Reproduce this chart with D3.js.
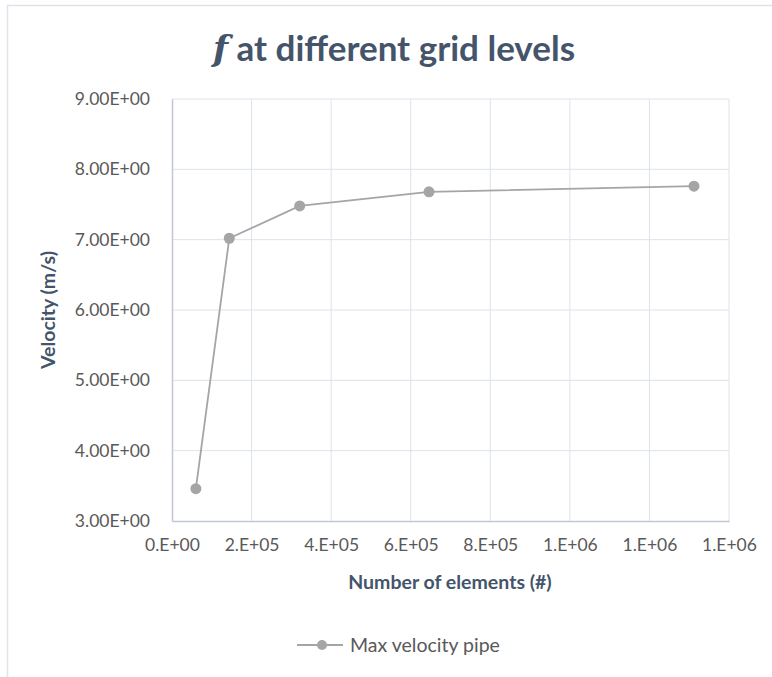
<!DOCTYPE html>
<html>
<head>
<meta charset="utf-8">
<script src="https://cdn.jsdelivr.net/npm/d3@7"></script>
<style>
  html, body { margin: 0; padding: 0; background: #fff; }
  svg { display: block; }
</style>
</head>
<body>
<svg id="chart" width="772" height="677"></svg>
<script>
// Grid-convergence study: maximum pipe velocity vs. mesh size
const elements = [60000, 144000, 321000, 646000, 1312000];
const velocity = [3.46, 7.02, 7.48, 7.68, 7.76];
const xTicks = [0, 200000, 400000, 600000, 800000, 1000000, 1200000, 1400000];
const yTicks = [3, 4, 5, 6, 7, 8, 9];
const seriesName = "Max velocity pipe";

const font = "Lato, 'Open Sans', sans-serif";
const svg = d3.select("#chart");

// Chart frame
svg.append("rect")
  .attr("x", 7.5).attr("y", 5.5)
  .attr("width", 800).attr("height", 700)
  .attr("fill", "#fff")
  .attr("stroke", "#dfe4ea").attr("stroke-width", 1.5);

const plot = { left: 172, right: 729, top: 99, bottom: 521 };

const x = d3.scaleLinear().domain([0, 1400000]).range([plot.left, plot.right]);
const y = d3.scaleLinear().domain([3, 9]).range([plot.bottom, plot.top]);

// Gridlines
const grid = svg.append("g");
grid.selectAll(".gx").data(xTicks.slice(1)).join("line")
  .attr("x1", d => x(d)).attr("x2", d => x(d))
  .attr("y1", plot.top).attr("y2", plot.bottom)
  .attr("stroke", "#dde2ea").attr("stroke-width", 1);
grid.selectAll(".gy").data(yTicks.slice(1)).join("line")
  .attr("x1", plot.left).attr("x2", plot.right)
  .attr("y1", d => y(d)).attr("y2", d => y(d))
  .attr("stroke", "#dde2ea").attr("stroke-width", 1);

// Excel-style scientific labels: 0.E+00, 2.E+05, 1.E+06 ...
const sci = d => {
  if (d === 0) return "0.E+00";
  const exp = Math.floor(Math.log10(d));
  const mant = Math.round(d / Math.pow(10, exp));
  return `${mant}.E+${String(exp).padStart(2, "0")}`;
};

// Axes
const xAxis = d3.axisBottom(x).tickValues(xTicks).tickSize(0).tickPadding(18).tickFormat(sci);
const yAxis = d3.axisLeft(y).tickValues(yTicks).tickSize(0).tickPadding(22)
  .tickFormat(d => d.toFixed(2) + "E+00");

const gx = svg.append("g").attr("transform", `translate(0,${plot.bottom})`).call(xAxis);
const gy = svg.append("g").attr("transform", `translate(${plot.left},0)`).call(yAxis);
[gx, gy].forEach(g => {
  g.select(".domain").attr("stroke", "#c0c8d4").attr("stroke-width", 1.5);
  g.selectAll("text").attr("fill", "#595959").attr("font-family", font).attr("font-size", 17.5);
});

// Axis titles
svg.append("text")
  .attr("x", 450).attr("y", 589)
  .attr("text-anchor", "middle")
  .attr("font-family", font).attr("font-size", 19.5).attr("font-weight", "bold")
  .attr("fill", "#44546a")
  .text("Number of elements (#)");
svg.append("text")
  .attr("transform", `translate(55,${(plot.top + plot.bottom) / 2}) rotate(-90)`)
  .attr("text-anchor", "middle")
  .attr("font-family", font).attr("font-size", 19.5).attr("font-weight", "bold")
  .attr("fill", "#44546a")
  .text("Velocity (m/s)");

// Title
const title = svg.append("text")
  .attr("x", 394).attr("y", 61)
  .attr("text-anchor", "middle")
  .attr("font-family", font).attr("font-size", 35).attr("font-weight", "bold")
  .attr("fill", "#44546a");
title.append("tspan").attr("font-style", "italic").attr("font-family", "'DejaVu Serif', serif").text("f");
title.append("tspan").text(" at different grid levels");

// Series
const data = elements.map((e, i) => ({ e, v: velocity[i] }));
const color = "#a5a5a5";
svg.append("path")
  .datum(data)
  .attr("fill", "none").attr("stroke", color).attr("stroke-width", 1.8)
  .attr("d", d3.line().x(d => x(d.e)).y(d => y(d.v)));
svg.selectAll(".pt").data(data).join("circle")
  .attr("cx", d => x(d.e)).attr("cy", d => y(d.v))
  .attr("r", 5.5).attr("fill", color);

// Legend
const lg = svg.append("g").attr("transform", "translate(297,645)");
lg.append("line").attr("x1", 0).attr("x2", 46).attr("y1", 0).attr("y2", 0)
  .attr("stroke", color).attr("stroke-width", 1.8);
lg.append("circle").attr("cx", 25).attr("cy", 0).attr("r", 5).attr("fill", color);
lg.append("text").attr("x", 53).attr("y", 6.5)
  .attr("font-family", font).attr("font-size", 19.5).attr("fill", "#595959")
  .text(seriesName);
</script>
</body>
</html>
